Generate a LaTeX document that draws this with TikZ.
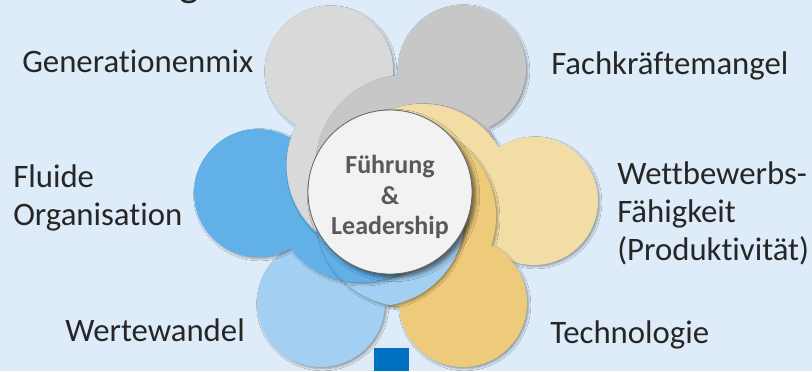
\documentclass[tikz,border=0pt]{standalone}
\usepackage{fontspec}
\setmainfont{Carlito}[Ligatures=NoCommon]
\usetikzlibrary{positioning}
\usetikzlibrary{calc}
\usetikzlibrary{shadows}
\usetikzlibrary{shadows.blur}
\definecolor{bgblue}{RGB}{222,236,249}
\definecolor{greylight}{RGB}{217,217,217}
\definecolor{greymid}{RGB}{199,199,199}
\definecolor{bluedeep}{RGB}{98,176,232}
\definecolor{bluepale}{RGB}{162,207,242}
\definecolor{sandpale}{RGB}{242,221,164}
\definecolor{sanddeep}{RGB}{237,203,122}
\definecolor{hubfill}{RGB}{242,242,242}
\definecolor{hubtext}{RGB}{89,89,89}
\definecolor{markblue}{RGB}{0,112,192}

% petal = outer circle + inner lobe towards the hub
\newcommand{\petalfill}[2]{\path[petal, fill=#2] (#1) circle (64) ($(mid)!0.22!(#1)$) circle (90);}
\newcommand{\petalclip}[1]{\clip (#1) circle (64) ($(mid)!0.22!(#1)$) circle (90);}

\begin{document}
\begin{tikzpicture}[
    x=0.025cm, y=-0.025cm,
    % shape styles
    petal/.style = {
      draw=none,
      blur shadow={shadow xshift=1.2pt, shadow yshift=-1.2pt,
        shadow blur radius=1.5pt, shadow opacity=35}
    },
    hub/.style = {
      circle,
      minimum size=4.1cm,
      fill=hubfill,
      draw=black!60,
      line width=0.6pt,
      blur shadow={shadow xshift=2.5pt, shadow yshift=-2.5pt,
        shadow blur radius=3pt, shadow opacity=55}
    },
    % text styles
    lbl/.style = {
      inner sep=0pt,
      align=left,
      text=black!85,
      font=\fontsize{23.3}{26.8}\selectfont
    },
    hubtxt/.style = {
      align=center,
      text=hubtext,
      font=\bfseries\fontsize{18.5}{21.8}\selectfont
    }
  ]

  \useasboundingbox[fill=bgblue] (0,0) rectangle (812,371);

  % --- Centres
  \coordinate (mid) at (390,192);
  \coordinate (gen) at (329,70);
  \coordinate (fach) at (462,69);
  \coordinate (flu) at (258,193);
  \coordinate (wett) at (534,201);
  \coordinate (wert) at (321,303);
  \coordinate (tech) at (463,303);

  % --- Petals
  \petalfill{wert}{bluepale}
  \petalfill{flu}{bluedeep}
  \petalfill{gen}{greylight}
  \petalfill{fach}{greymid}
  \petalfill{wett}{sandpale}
  \petalfill{tech}{sanddeep}
  % close the ring: Wertewandel lies on Technologie
  \begin{scope}
    \petalclip{tech}
    \petalfill{wert}{bluepale}
    \begin{scope}
      \petalclip{wert}
      \petalfill{flu}{bluedeep}
    \end{scope}
  \end{scope}

  % --- Hub
  \node[hub] (lead) at (mid) {};
  \node[hubtxt] (leadtxt) at (390,197) {Führung\\\&\\Leadership};

  % --- Labels
  \node[lbl, anchor=base west] (genlbl) at (22,72) {Generationenmix};
  \node[lbl, anchor=base west] (fachlbl) at (551,74) {Fachkräftemangel};
  \node[lbl, anchor=base west] (flulbl) at (13,225) {Fluide\\Organisation};
  \node[lbl, anchor=base west] (wettlbl) at (617,260) {Wettbewerbs-\\Fähigkeit\\(Produktivität)};
  \node[lbl, anchor=base west] (wertlbl) at (65,341) {Wertewandel};
  \node[lbl, anchor=base west] (techlbl) at (550,343) {Technologie};

  % cut title and marker
  \node[lbl, anchor=base, font=\fontsize{30}{30}\selectfont] (title) at (189,-4) {g};
  \fill[markblue] (374,348) rectangle (409,371);

\end{tikzpicture}
\end{document}
